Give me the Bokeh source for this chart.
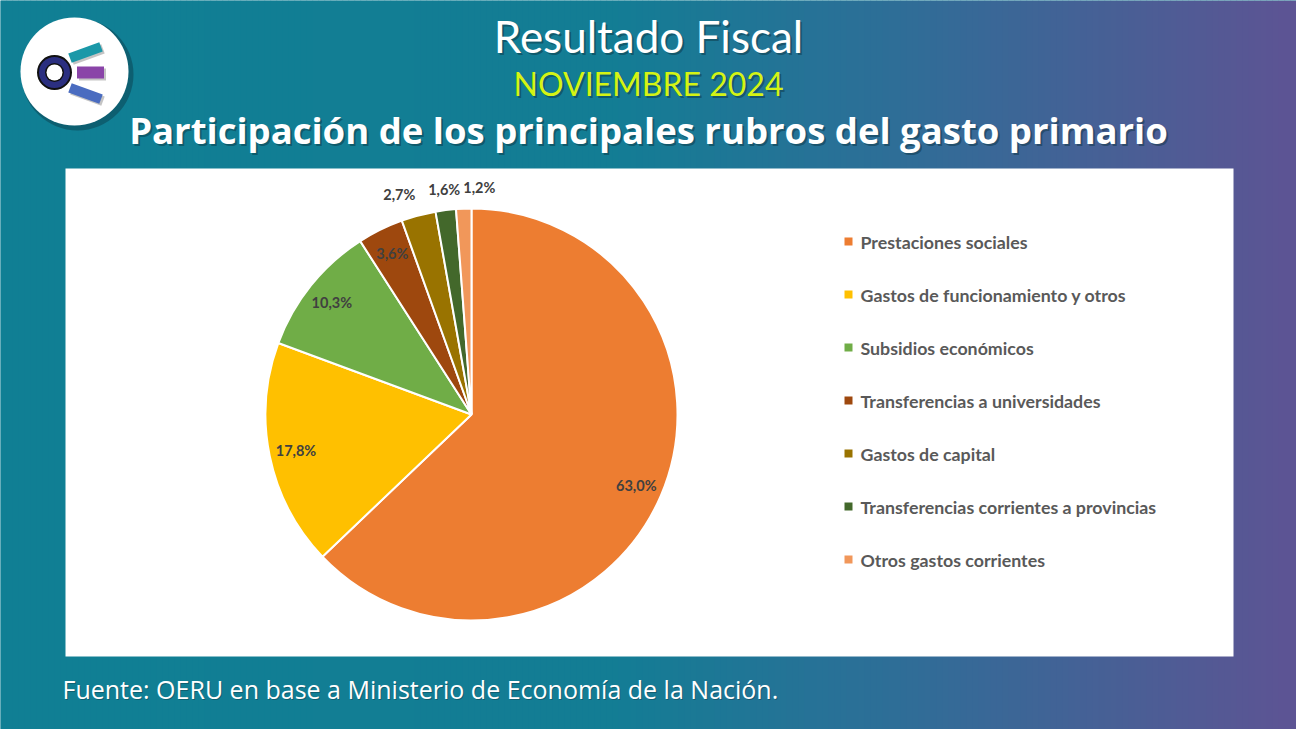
import numpy as np
from bokeh.plotting import figure
from bokeh.models import Range1d
from bokeh.core.properties import value
from bokeh.embed import file_html
from bokeh.resources import INLINE

# ---------------- data ----------------
categories = [
    "Prestaciones sociales",
    "Gastos de funcionamiento y otros",
    "Subsidios económicos",
    "Transferencias a universidades",
    "Gastos de capital",
    "Transferencias corrientes a provincias",
    "Otros gastos corrientes",
]
values = [63.0, 17.8, 10.3, 3.6, 2.7, 1.6, 1.2]
colors = ["#ED7D31", "#FFC000", "#70AD47", "#9E480E", "#997300", "#43682B", "#F1975A"]

title = "Resultado Fiscal"
period = "NOVIEMBRE 2024"
subtitle = "Participación de los principales rubros del gasto primario"
source = "Fuente: OERU en base a Ministerio de Economía de la Nación."

# ---------------- canvas ----------------
W, H = 1296, 729


def Y(y):
    return H - y


p = figure(width=W, height=H, x_range=Range1d(0, W), y_range=Range1d(0, H),
           output_backend="svg", toolbar_location=None,
           x_axis_type=None, y_axis_type=None, min_border=0)
p.grid.visible = False
p.outline_line_color = None
p.background_fill_color = "#0f7e92"
p.border_fill_color = "#0f7e92"

# background gradient (teal -> purple)
stops_x = [0, 620, 900, 1296]
stops_c = [(16, 128, 148), (20, 125, 149), (47, 110, 152), (94, 84, 148)]
n = 216
xs = np.linspace(0, W, n + 1)
mids = (xs[:-1] + xs[1:]) / 2
grad = []
for m in mids:
    r = int(np.interp(m, stops_x, [c[0] for c in stops_c]))
    g = int(np.interp(m, stops_x, [c[1] for c in stops_c]))
    b = int(np.interp(m, stops_x, [c[2] for c in stops_c]))
    grad.append("#%02x%02x%02x" % (r, g, b))
p.quad(left=xs[:-1], right=xs[1:] + 0.6, bottom=0, top=H, fill_color=grad, line_color=None)

# white chart panel
p.quad(left=65, right=1233, top=Y(168), bottom=Y(656), fill_color="white", line_color=None)

# ---------------- logo ----------------
lx, ly = 74, 71
p.circle(x=lx + 3, y=Y(ly + 3), radius=56, fill_color="#0a3a46", fill_alpha=0.45, line_color=None)
p.circle(x=lx, y=Y(ly), radius=54, fill_color="white", line_color=None)
bars = [  # (cx, cy, len, thick, angle_deg, color)
    (85, 52, 33, 10, 20, "#1a98a8"),
    (90, 72, 27, 12, 0, "#8a44a8"),
    (85, 93, 33, 10, -20, "#4a6cc0"),
]
for bx, by, bl, bt, ba, bc in bars:
    p.rect(x=bx + 2, y=Y(by + 2), width=bl, height=bt, angle=np.radians(ba),
           fill_color="#555555", fill_alpha=0.35, line_color=None)
    p.rect(x=bx, y=Y(by), width=bl, height=bt, angle=np.radians(ba), fill_color=bc, line_color=None)
p.circle(x=54, y=Y(72), radius=17.5, fill_color="#111111", line_color=None)
p.circle(x=54, y=Y(72), radius=15.5, fill_color="#2b2f80", line_color=None)
p.circle(x=54, y=Y(72), radius=9.5, fill_color="#111111", line_color=None)
p.circle(x=54, y=Y(72), radius=8, fill_color="white", line_color=None)

# ---------------- titles ----------------
def shadow_text(x, y, txt, size, color, font, style="normal", off=2):
    p.text(x=[x + off], y=[Y(y + off)], text=[txt], text_align="center", text_baseline="middle",
           text_font_size=size, text_font=value(font), text_font_style=style,
           text_color="#0b2f3a", text_alpha=0.45)
    p.text(x=[x], y=[Y(y)], text=[txt], text_align="center", text_baseline="middle",
           text_font_size=size, text_font=value(font), text_font_style=style, text_color=color)


shadow_text(648, 35, title, "44px", "white", "Lato")
shadow_text(648, 83, period, "32px", "#d4f414", "Lato")
shadow_text(648, 129, subtitle, "36.5px", "white", "Open Sans", "bold")

# source
p.text(x=[63], y=[Y(689)], text=[source], text_align="left", text_baseline="middle",
       text_font_size="25px", text_font=value("Open Sans"), text_color="#0b2f3a", text_alpha=0.4)
p.text(x=[62], y=[Y(688)], text=[source], text_align="left", text_baseline="middle",
       text_font_size="25px", text_font=value("Open Sans"), text_color="white")

# ---------------- pie ----------------
cx, cy, R = 471, Y(414), 206
total = sum(values)
cum = np.concatenate([[0], np.cumsum(values)]) / total
starts = np.pi / 2 - 2 * np.pi * cum[1:]
ends = np.pi / 2 - 2 * np.pi * cum[:-1]
p.wedge(x=cx, y=cy, radius=R, start_angle=starts, end_angle=ends,
        fill_color=colors, line_color="white", line_width=2)

# data labels
for i, v in enumerate(values):
    theta = 2 * np.pi * (cum[i] + cum[i + 1]) / 2
    lab = ("%.1f" % v).replace(".", ",") + "%"
    if v >= 3:
        d = 0.87 * R
        anchor_align, anchor_base = "center", "middle"
    else:
        d = 1.06 * R
        s = np.sin(theta)
        anchor_base = "bottom"
        anchor_align = "right" if s < -0.2 else ("center" if s < -0.1 else "left")
    tx = cx + d * np.sin(theta)
    ty = cy + d * np.cos(theta)
    p.text(x=[tx], y=[ty], text=[lab], text_align=anchor_align, text_baseline=anchor_base,
           text_font_size="14.5px", text_font=value("Lato"), text_font_style="bold",
           text_color="#404040")

# ---------------- legend ----------------
leg_x, leg_y0, leg_dy = 848, 241, 53
for i, (c, name) in enumerate(zip(colors, categories)):
    yy = Y(leg_y0 + i * leg_dy)
    p.scatter(x=[leg_x], y=[yy], marker="square", size=8, fill_color=c, line_color=None)
    p.text(x=[leg_x + 12], y=[yy], text=[name], text_align="left", text_baseline="middle",
           text_font_size="17.8px", text_font=value("Lato"), text_font_style="bold",
           text_color="#595959")

open("out.html", "w").write(file_html(p, INLINE))
